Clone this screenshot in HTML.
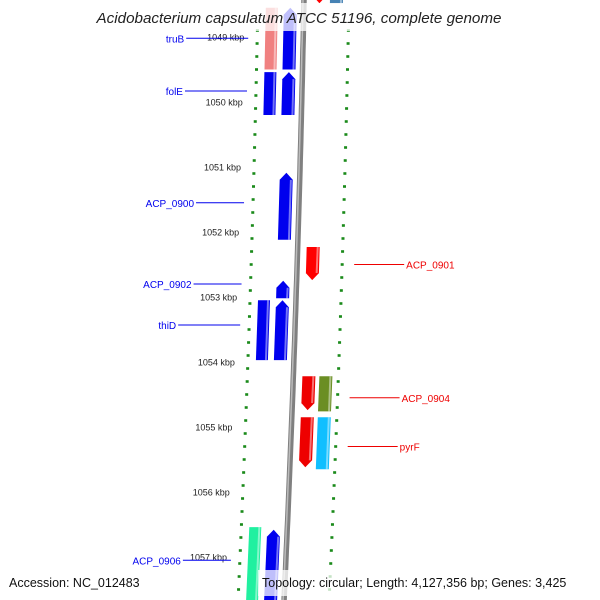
<!DOCTYPE html>
<html><head><meta charset="utf-8"><style>
body{margin:0;background:#fff}
svg{display:block;font-family:"Liberation Sans","DejaVu Sans",sans-serif}
</style></head><body>
<svg id="map" width="600" height="600" viewBox="0 0 600 600">
<g id="ticks"></g>
<g id="backbone"></g>
<g id="genes"></g>
<g id="labels"></g>
<rect x="0" y="3" width="600" height="28" fill="#fff" fill-opacity="0.75"/>
<text x="299" y="23" text-anchor="middle" font-size="15.2" font-style="italic" fill="#222">Acidobacterium capsulatum ATCC 51196, complete genome</text>
<rect x="258" y="570" width="342" height="26" fill="#fff" fill-opacity="0.75"/>
<text x="9" y="587" font-size="12.5" fill="#111">Accession: NC_012483</text>
<text x="262" y="587" font-size="12.5" fill="#111">Topology: circular; Length: 4,127,356 bp; Genes: 3,425</text>
</svg>
<script>
// data
const kbpTicks = [1049,1050,1051,1052,1053,1054,1055,1056,1057];
const geneNames = ["truB","truB-b","folE","folE-b","ACP_0900","ACP_0901","ACP_0902","thiD","thiD-b","ACP_0904","ACP_0904-b","pyrF","pyrF-b","ACP_0906","ACP_0906-b","top-a","top-b"];
const geneStart = [1048.55,1048.55,1049.54,1049.54,1051.09,1052.23,1052.75,1053.05,1053.05,1054.22,1054.22,1054.85,1054.85,1056.54,1056.58,1048.4,1048.4];
const geneEnd   = [1049.5,1049.5,1050.2,1050.2,1052.12,1052.74,1053.02,1053.97,1053.97,1054.74,1054.76,1055.62,1055.65,1057.7,1057.7,1048.48,1048.48];
const geneTrack = [-2,-1,-2,-1,-1,1,-1,-2,-1,1,2,1,2,-2,-1,1,2];
const geneStrand= [0,1,0,1,1,-1,1,0,1,-1,0,-1,0,0,1,-1,0];
const geneColor = ["#f08080","#0000ee","#0000ee","#0000ee","#0000ee","#ff0000","#0000ee","#0000ee","#0000ee","#ee0000","#6b8e23","#ee0000","#10bfff","#20f0a0","#0000ee","#ff0000","#4682b4"];
const labelText = ["truB","folE","ACP_0900","ACP_0902","thiD","ACP_0906","ACP_0901","ACP_0904","pyrF"];
const labelKbp  = [1049.02,1049.83,1051.55,1052.8,1053.43,1057.05,1052.5,1054.55,1055.3];
const labelSide = [-1,-1,-1,-1,-1,-1,1,1,1];

const NS="http://www.w3.org/2000/svg";
const Y=k=>37+(k-1049)*65;
const bx=y=>304-0.02*y-0.000022*y*y;
const trackOff={"-2":[-38,-26],"-1":[-20,-7],"1":[9,22],"2":[26,39]};
function mk(t,a,p){const e=document.createElementNS(NS,t);for(const k in a)e.setAttribute(k,a[k]);p.appendChild(e);return e;}

// backbone
const bb=document.getElementById('backbone');
let d="";for(let y=0;y<=600;y+=10)d+=(y?"L":"M")+bx(y).toFixed(1)+" "+y;
const bl=mk('path',{d:d,stroke:'#808080',"stroke-width":5.5,fill:'none'},bb);


const bl2=mk('path',{d:d,stroke:'#bbb',"stroke-width":1.5,fill:'none',transform:'translate(-1,0)'},bb);



// ticks
const tg=document.getElementById('ticks');
for(let k=1048.5;k<=1057.8;k+=0.2){
  const y=Y(k); if(y<28||y>600) continue;
  const major=Math.abs(k-Math.round(k))<0.01;
  [-46,45].forEach(off=>{
    const x=bx(y)+off;
    const r=mk('rect',{x:major?x-4:x-1.5,y:y-1.3,width:major?8:3,height:2.6,fill:'#1a8a1a'},tg);
    
    
  });
}
kbpTicks.forEach(k=>{
  const y=Y(k);
  const t=mk('text',{x:bx(y)-59,y:y+3.5,"text-anchor":"end","font-size":9,fill:'#222'},tg);
  t.textContent=k+" kbp";
  
  
});

// genes
const gg=document.getElementById('genes');
geneNames.forEach((n,i)=>{
  const y1=Math.max(Y(geneStart[i]),-5), y2=Y(geneEnd[i]);
  const [a,b]=trackOff[geneTrack[i]];
  const xa=y=>bx(y)+a, xb=y=>bx(y)+b;
  const m=(a+b)/2, ah=7;
  let pts;
  if(geneStrand[i]===1) pts=[[xa(y1+ah),y1+ah],[bx(y1)+m,y1],[xb(y1+ah),y1+ah],[xb(y2),y2],[xa(y2),y2]];
  else if(geneStrand[i]===-1) pts=[[xa(y1),y1],[xb(y1),y1],[xb(y2-ah),y2-ah],[bx(y2)+m,y2],[xa(y2-ah),y2-ah]];
  else pts=[[xa(y1),y1],[xb(y1),y1],[xb(y2),y2],[xa(y2),y2]];
  const p=mk('polygon',{points:pts.map(q=>q[0].toFixed(1)+","+q[1].toFixed(1)).join(" "),fill:geneColor[i]},gg);
  
  
  const h=mk('line',{x1:xb(y1)-2,y1:y1+(geneStrand[i]===1?ah:0),x2:xb(y2)-2,y2:y2-(geneStrand[i]===-1?ah:0),stroke:'#fff',"stroke-opacity":0.45,"stroke-width":2},gg);
  
  
});

// labels
const lg=document.getElementById('labels');
labelText.forEach((n,i)=>{
  const y=Y(labelKbp[i]); const s=labelSide[i];
  const col=s<0?'#0000ee':'#ee0000';
  let x1,x2,tx;
  if(s<0){x2=bx(y)-55;x1=x2-(n.length>4?48:62);tx=x1-2;}
  else{x1=bx(y)+57;x2=x1+50;tx=x2+2;}
  const l=mk('line',{x1:x1,y1:y,x2:x2,y2:y,stroke:col,"stroke-width":1},lg);
  
  
  const t=mk('text',{x:tx,y:y+4,"text-anchor":s<0?'end':'start',"font-size":10,fill:col},lg);
  t.textContent=n;
  
  
});
</script>
</body></html>
